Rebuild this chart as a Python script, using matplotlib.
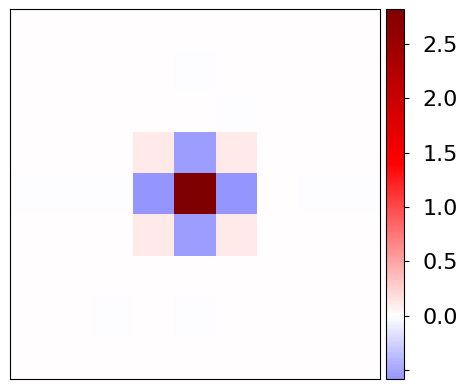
import numpy as np
import matplotlib
matplotlib.use("Agg")
import matplotlib.pyplot as plt
from matplotlib.colors import Normalize

# 9x9 kernel values (row 0 = top)
row0 = [0.0, 0.0, 0.0, 0.0, 0.0, 0.0, 0.0, 0.0, 0.0]
row1 = [0.0, 0.0, 0.0, 0.0, -0.012, 0.0, 0.0, 0.0, 0.0]
row2 = [0.0, 0.0, 0.0, 0.0, 0.012, -0.012, 0.0, 0.0, 0.0]
row3 = [0.0, 0.0, 0.0, 0.127, -0.54, 0.127, 0.0, 0.0, 0.0]
row4 = [-0.012, -0.02, -0.008, -0.575, 2.82, -0.575, 0.0, -0.02, -0.012]
row5 = [0.0, 0.0, 0.0, 0.127, -0.54, 0.127, 0.0, 0.0, 0.0]
row6 = [0.0, 0.0, 0.006, 0.0, 0.0, 0.006, 0.0, 0.0, 0.0]
row7 = [0.0, 0.0, -0.012, 0.0, -0.012, 0.0, 0.0, 0.0, 0.0]
row8 = [0.0, 0.0, 0.0, 0.0, 0.0, 0.0, 0.0, 0.0, 0.0]
cbar_ticks = [-0.5, 0.0, 0.5, 1.0, 1.5, 2.0, 2.5]
cbar_labels = ["", "0.0", "0.5", "1.0", "1.5", "2.0", "2.5"]

data = np.array([row0, row1, row2, row3, row4, row5, row6, row7, row8])
vmax = np.abs(data).max()

fig = plt.figure(figsize=(4.70, 3.89), dpi=100)
ax = fig.add_axes([10/470, 10/389, 370/470, 370/389])
cax = fig.add_axes([385.5/470, 10/389, 18/470, 370/389])

im = ax.imshow(data, cmap="seismic", norm=Normalize(-vmax, vmax),
               interpolation="nearest", aspect="auto")
ax.set_xticks([])
ax.set_yticks([])

cb = fig.colorbar(im, cax=cax)
cax.set_ylim(-0.58, data.max())
cb.set_ticks(cbar_ticks)
cb.set_ticklabels(cbar_labels)
cax.tick_params(labelsize=16, pad=10)

fig.savefig("out.png", dpi=100)
